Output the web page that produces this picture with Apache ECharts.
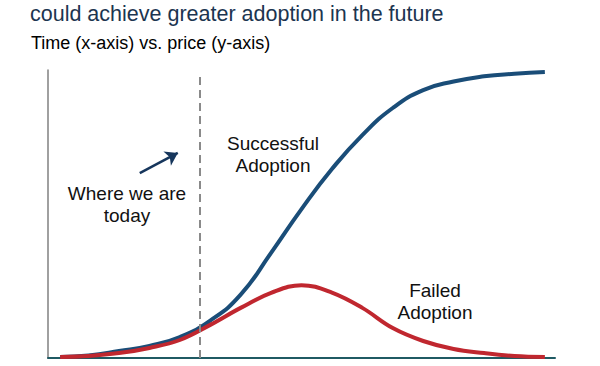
<!DOCTYPE html>
<html>
<head>
<meta charset="utf-8">
<script src="https://cdn.jsdelivr.net/npm/echarts@6/dist/echarts.min.js"></script>
<style>
html,body{margin:0;padding:0;background:#fff;}
#chart{width:600px;height:366px;}
</style>
</head>
<body>
<div id="chart"></div>
<script>
// Data (time units 0-100, price units 0-100)
var titleText = 'could achieve greater adoption in the future';
var subtitleText = 'Time (x-axis) vs. price (y-axis)';
var time = [2.4, 8, 14, 20, 26, 32, 38, 44, 50, 56, 62, 68, 74, 80, 86, 92, 98];
var successful = [0.35, 0.9, 2.4, 4.2, 7.3, 13.0, 22.0, 36.5, 51.7, 65.6, 77.4, 86.8, 93.0, 96.0, 97.8, 98.7, 99.3];
var failed = [0.35, 0.7, 1.7, 3.5, 6.25, 11.5, 17.4, 22.6, 25.3, 22.7, 17.4, 10.4, 5.9, 3.1, 1.7, 0.7, 0.35];
var todayTime = 30;
var arrowFrom = [18.1, 64.2];
var arrowTo = [25.6, 71.2];
var labelToday = ['Where we are', 'today'];
var labelSuccess = ['Successful', 'Adoption'];
var labelFailed = ['Failed', 'Adoption'];

function pairs(xs, ys){ return xs.map(function(x,i){ return [x, ys[i]]; }); }

var chart = echarts.init(document.getElementById('chart'), null, {renderer:'svg'});
var font = 'Liberation Sans, Arial, sans-serif';
chart.setOption({
  animation:false,
  backgroundColor:'#fff',
  grid:{left:48, right:45, top:70, bottom:8},
  xAxis:{type:'value', min:0, max:100,
    axisLine:{show:true, onZero:false, lineStyle:{color:'#1f5a63', width:2}},
    axisTick:{show:false}, axisLabel:{show:false}, splitLine:{show:false}},
  yAxis:{type:'value', min:0, max:100,
    axisLine:{show:true, lineStyle:{color:'#808080', width:1.5}},
    axisTick:{show:false}, axisLabel:{show:false}, splitLine:{show:false}},
  series:[
    {type:'line', name:'Successful Adoption', data:pairs(time, successful), smooth:0.5,
      showSymbol:false, lineStyle:{color:'#1a4d78', width:4, cap:'butt'}, z:3,
      markLine:{silent:true, symbol:['none','none'], label:{show:false},
        lineStyle:{color:'#8a8a8a', width:2, type:[8,5]},
        data:[[{coord:[todayTime, 0]},{coord:[todayTime, 98.3]}]]}},
    {type:'line', name:'Failed Adoption', data:pairs(time, failed), smooth:0.4,
      showSymbol:false, lineStyle:{color:'#c0272f', width:4, cap:'butt'}, z:4,
      markLine:{silent:true, label:{show:false}, symbolSize:[12,12],
        lineStyle:{color:'#16365c', width:2.5, type:'solid'},
        data:[[{coord:arrowFrom, symbol:'none'},{coord:arrowTo, symbol:'arrow'}]]}}
  ],
  graphic:[
    {type:'text', left:30, top:3, style:{text:titleText, font:'21.5px '+font, fill:'#1c3550'}},
    {type:'text', left:31, top:34, style:{text:subtitleText, font:'18px '+font, fill:'#000'}},
    {type:'text', x:127, y:204, style:{text:labelToday.join('\n'), font:'19px '+font, fill:'#111',
      align:'center', verticalAlign:'middle', lineHeight:22}},
    {type:'text', x:273, y:154, style:{text:labelSuccess.join('\n'), font:'19px '+font, fill:'#111',
      align:'center', verticalAlign:'middle', lineHeight:22}},
    {type:'text', x:435, y:301, style:{text:labelFailed.join('\n'), font:'19px '+font, fill:'#111',
      align:'center', verticalAlign:'middle', lineHeight:22}}
  ]
});
</script>
</body>
</html>
